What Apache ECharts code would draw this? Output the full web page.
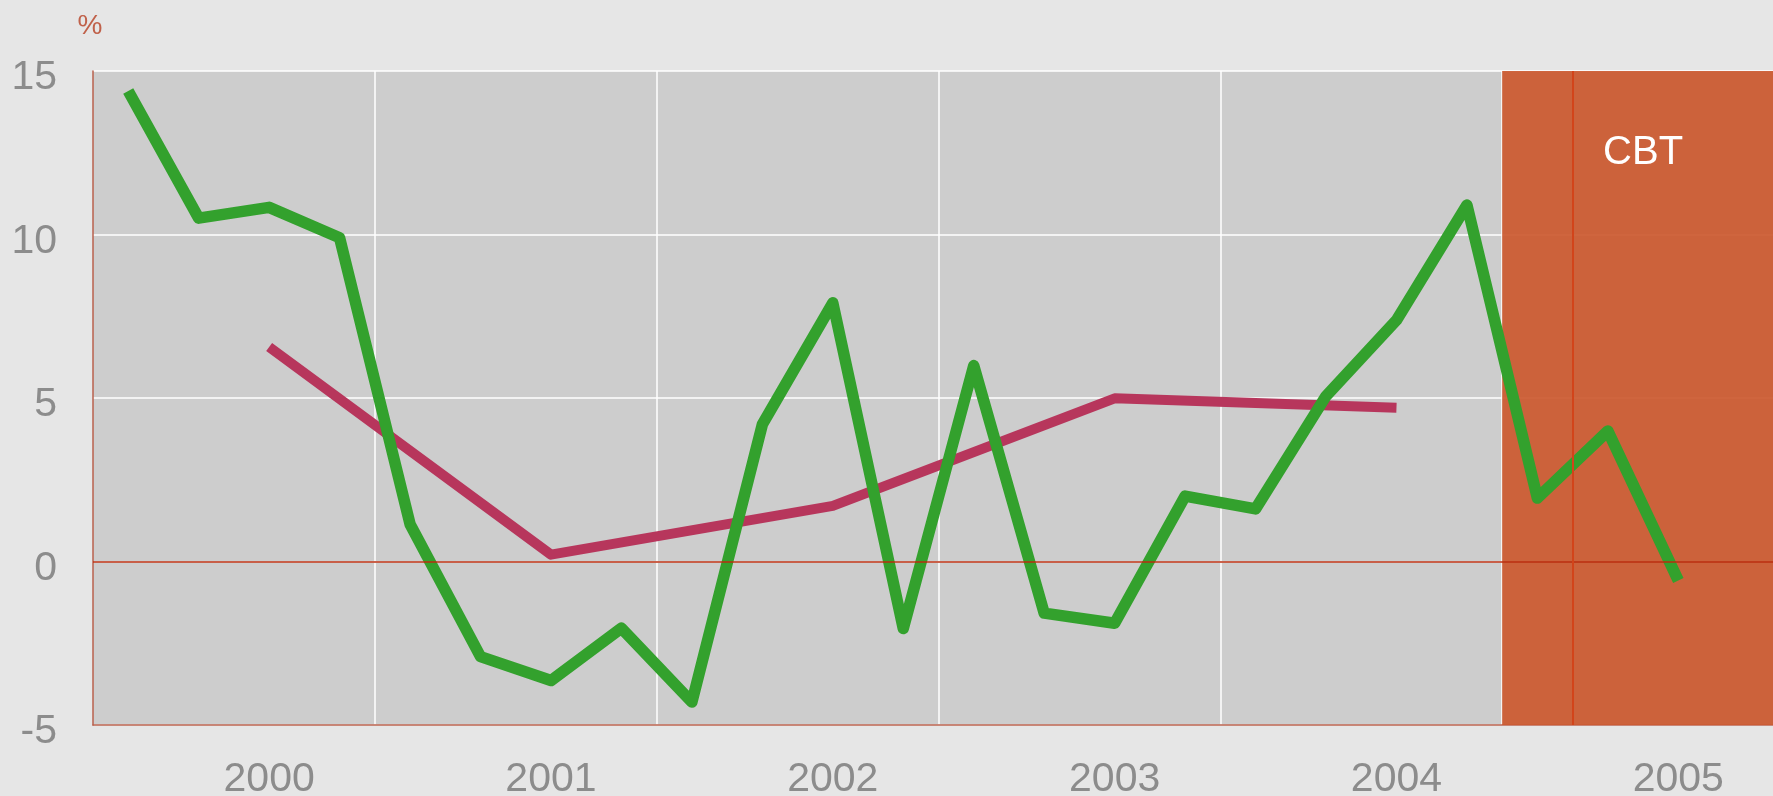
<!DOCTYPE html>
<html>
<head>
<meta charset="utf-8">
<style>
  html, body { margin: 0; padding: 0; background: #e6e6e6; }
  #main { width: 1773px; height: 796px; }
</style>
<script src="https://cdn.jsdelivr.net/npm/echarts@6/dist/echarts.min.js"></script>
</head>
<body>
<div id="main"></div>
<script>
// quarters, mid-1999 to mid-2005
const quarters = [
  '1999Q3', '1999Q4',
  '2000Q1', '2000Q2', '2000Q3', '2000Q4',
  '2001Q1', '2001Q2', '2001Q3', '2001Q4',
  '2002Q1', '2002Q2', '2002Q3', '2002Q4',
  '2003Q1', '2003Q2', '2003Q3', '2003Q4',
  '2004Q1', '2004Q2', '2004Q3', '2004Q4',
  '2005Q1', '2005Q2'
];
// quarterly series (green)
const quarterly = [14.39, 10.50, 10.83, 9.90, 1.14, -2.91, -3.64, -2.04, -4.30, 4.19, 7.91, -2.05,
  5.99, -1.58, -1.89, 2.00, 1.61, 5.06, 7.38, 10.90, 1.94, 3.99, -0.58, null];
// yearly series (red), one value per year
const yearly = [null, null, 6.56, null, null, null, 0.21, null, null, null, 1.70, null,
  null, null, 4.99, null, null, null, 4.70, null, null, null, null, null];
const yTicks = [-5, 15, 5]; // min, max, step
const cbtStart = 20, cbtEnd = 24, cbtLine = 21;

const font = "'Helvetica Neue', 'Liberation Sans', Arial, sans-serif";
const chart = echarts.init(document.getElementById('main'));

const option = {
  backgroundColor: '#e6e6e6',
  animation: false,
  grid: {
    // plot runs a little past the right edge of the picture
    left: 93, top: 71, right: -11, bottom: 71,
    outerBoundsMode: 'none',
    containLabel: false,
    show: true,
    backgroundColor: '#cdcdcd',
    borderWidth: 0
  },
  xAxis: [{
    type: 'category',
    data: quarters,
    boundaryGap: true,
    axisLine: { onZero: false, lineStyle: { color: '#b8604c', width: 1.5 } },
    axisTick: { show: false },
    axisLabel: {
      interval: function (i) { return i % 4 === 2; },
      formatter: function (v) { return v.slice(0, 4); },
      color: '#8c8c8c',
      fontSize: 41,
      fontFamily: font,
      fontWeight: 300,
      margin: 34
    },
    splitLine: {
      show: true,
      interval: function (i) { return i % 4 === 0 && i > 0; },
      lineStyle: { color: '#ffffff', width: 1.5 }
    }
  }, {
    type: 'value',
    min: 0,
    max: 24,
    show: false
  }],
  yAxis: {
    type: 'value',
    min: yTicks[0],
    max: yTicks[1],
    interval: yTicks[2],
    name: '%',
    nameLocation: 'end',
    nameGap: 45,
    nameTextStyle: {
      color: '#c0614a', fontSize: 28, fontFamily: font, fontWeight: 300,
      verticalAlign: 'middle', align: 'center', padding: [0, 6, 0, 0]
    },
    axisLine: { show: true, lineStyle: { color: '#b8604c', width: 1.5 } },
    axisTick: { show: false },
    axisLabel: {
      margin: 36,
      formatter: '{t|{value}}',
      rich: {
        t: {
          color: '#8c8c8c', fontSize: 41, fontFamily: font, fontWeight: 300,
          padding: [14, 0, 0, 0]
        }
      }
    },
    splitLine: { lineStyle: { color: '#ffffff', width: 1.5 } }
  },
  series: [{
    // CBT shaded period
    type: 'line',
    xAxisIndex: 1,
    data: [],
    z: 1,
    markArea: {
      silent: true,
      itemStyle: { color: 'rgb(203,89,47)', opacity: 0.93 },
      label: {
        show: true,
        position: ['50%', 82],
        align: 'center',
        verticalAlign: 'middle',
        color: '#ffffff',
        fontSize: 40,
        fontFamily: font,
        fontWeight: 300
      },
      data: [[{ name: 'CBT', xAxis: cbtStart }, { xAxis: cbtEnd }]]
    }
  }, {
    type: 'line',
    xAxisIndex: 1,
    data: [],
    z: 2,
    markLine: {
      silent: true,
      symbol: ['none', 'none'],
      label: { show: false },
      data: [
        { yAxis: 0, lineStyle: { color: 'rgba(185,45,15,0.75)', width: 2, type: 'solid' } },
        { xAxis: cbtLine, lineStyle: { color: '#d2441a', width: 2, type: 'solid' } }
      ]
    }
  }, {
    type: 'line',
    data: yearly,
    connectNulls: true,
    showSymbol: false,
    z: 3,
    lineStyle: { color: '#b7365c', width: 10, cap: 'butt', join: 'round' }
  }, {
    type: 'line',
    data: quarterly,
    showSymbol: false,
    z: 4,
    lineStyle: { color: '#33a12d', width: 11.5, cap: 'butt', join: 'round' }
  }]
};

chart.setOption(option);
</script>
</body>
</html>
